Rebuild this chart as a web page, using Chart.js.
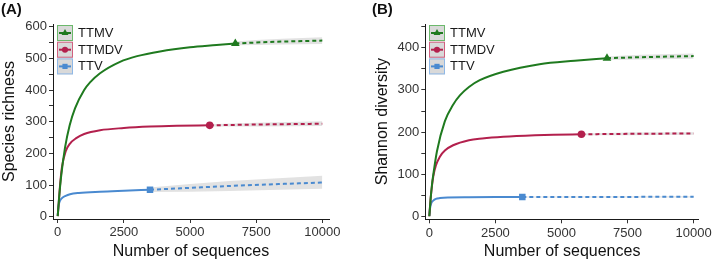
<!DOCTYPE html>
<html>
<head>
<meta charset="utf-8">
<script src="https://cdn.jsdelivr.net/npm/chart.js@4.4.0/dist/chart.umd.min.js"></script>
<style>
body { margin: 0; background: #fff; width: 714px; height: 261px; position: relative; overflow: hidden; font-family: "Liberation Sans", Arial, sans-serif; }
.panel { position: absolute; top: 0; width: 357px; height: 261px; }
.tag { position: absolute; top: 0; font-weight: bold; font-size: 15px; color: #111; }
</style>
</head>
<body>
<div class="panel" style="left:0"><canvas id="chartA" width="357" height="261"></canvas></div>
<div class="panel" style="left:357px"><canvas id="chartB" width="357" height="261"></canvas></div>
<div class="tag" style="left:1px">(A)</div>
<div class="tag" style="left:372px">(B)</div>
<script>
var seriesNames = ['TTMV', 'TTMDV', 'TTV'];
var xTicks = [0, 2500, 5000, 7500, 10000];
var richTicks = [0, 50, 100, 150, 200, 250, 300, 350, 400, 450, 500, 550, 600];
var shanTicks = [0, 50, 100, 150, 200, 250, 300, 350, 400, 450];

// (A) species richness, observed (solid) and extrapolated (dashed + band)
var richTTMV_x = [1, 50, 125, 276, 450, 654, 1000, 1221, 1600, 2355, 3000, 3866, 5000, 6000, 6713];
var richTTMV_y = [2, 57, 124, 218, 288, 342, 400, 424, 453, 489, 507, 522, 535, 542, 547];
var richTTMV_ex = [6713, 7500, 8500, 10000];
var richTTMV_ey = [547, 550, 553, 556];
var richTTMV_lo = [541, 542, 544, 545];
var richTTMV_hi = [553, 558, 562, 567];

var richTTMDV_x = [1, 50, 100, 163, 300, 465, 700, 1000, 1600, 2500, 3488, 4500, 5745];
var richTTMDV_y = [2, 57, 110, 158, 206, 231, 248, 261, 273, 280, 284.5, 287, 288.5];
var richTTMDV_ex = [5745, 7500, 10000];
var richTTMDV_ey = [288.5, 291, 293.5];
var richTTMDV_lo = [285, 285, 286];
var richTTMDV_hi = [292, 297, 301];

var richTTV_x = [1, 25, 75, 150, 300, 465, 800, 1600, 2500, 3488];
var richTTV_y = [3, 30, 48, 58, 66, 71, 75, 79, 82, 85];
var richTTV_ex = [3488, 5000, 6500, 8000, 10000];
var richTTV_ey = [85, 91, 97, 102, 108];
var richTTV_lo = [78, 79, 81, 84, 88];
var richTTV_hi = [92, 103, 113, 120, 129];

// (B) Shannon diversity
var shanTTMV_x = [1, 50, 100, 150, 290, 590, 900, 1157, 1500, 1910, 2800, 4170, 5500, 6722];
var shanTTMV_y = [1, 42, 75, 99, 155, 226, 265, 287, 307, 323, 343, 361, 369, 375];
var shanTTMV_ex = [6722, 8000, 10000];
var shanTTMV_ey = [375, 377.5, 380];
var shanTTMV_lo = [371, 372, 374];
var shanTTMV_hi = [379, 383, 386];

var shanTTMDV_x = [1, 50, 100, 150, 250, 400, 600, 900, 1500, 2000, 2800, 4000, 4700, 5754];
var shanTTMDV_y = [1, 42, 72, 95, 121, 142, 157, 169, 181, 185, 189, 192.5, 193.8, 195];
var shanTTMDV_ex = [5754, 7500, 10000];
var shanTTMDV_ey = [195, 196, 197];
var shanTTMDV_lo = [193, 193, 194];
var shanTTMDV_hi = [197, 199, 200];

var shanTTV_x = [1, 30, 75, 150, 250, 400, 700, 1500, 2500, 3519];
var shanTTV_y = [2, 20, 32, 38, 42, 44, 45.5, 46, 46.3, 46.6];
var shanTTV_ex = [3519, 10000];
var shanTTV_ey = [46.6, 47];
var shanTTV_lo = [45.5, 45.5];
var shanTTV_hi = [47.7, 48.5];

var lineColors = ['#1f7a1f', '#b3204d', '#4a8ad0'];
var boxColors = ['#6cb86c', '#d0607f', '#8fb8e6'];
var markers = ['triangle', 'circle', 'rect'];
var markerSize = [5, 3.8, 4.6];

function pts(xs, ys) {
    return xs.map(function (x, i) { return { x: x, y: ys[i] }; });
}

function buildDatasets(series) {
    var ds = [];
    series.forEach(function (s, i) {
        var c = lineColors[i];
        ds.push({ data: pts(s.ex, s.lo), borderWidth: 0, pointRadius: 0, fill: false, order: 5 });
        ds.push({ data: pts(s.ex, s.hi), borderWidth: 0, pointRadius: 0, fill: '-1',
            backgroundColor: 'rgba(190,190,190,0.45)', order: 5 });
        ds.push({ data: pts(s.x, s.y), borderColor: c, borderWidth: 2, pointRadius: 0,
            cubicInterpolationMode: 'monotone', fill: false, order: 2 });
        ds.push({ data: pts(s.ex, s.ey), borderColor: c, borderWidth: 2, borderDash: [4, 3],
            pointRadius: 0, cubicInterpolationMode: 'monotone', fill: false, order: 2 });
        var last = s.x.length - 1;
        ds.push({ data: [{ x: s.x[last], y: s.y[last] }], showLine: false,
            pointStyle: markers[i], pointRadius: markerSize[i], pointBackgroundColor: c,
            pointBorderColor: c, pointBorderWidth: 0, order: 1 });
    });
    return ds;
}

var legendPlugin = {
    id: 'boxLegend',
    afterDraw: function (chart, args, opts) {
        var ctx = chart.ctx;
        ctx.save();
        seriesNames.forEach(function (name, i) {
            var bx = opts.x, by = opts.y + i * 16.7;
            ctx.fillStyle = '#d9d9d9';
            ctx.fillRect(bx, by, 16, 16);
            ctx.strokeStyle = boxColors[i];
            ctx.lineWidth = 1;
            ctx.strokeRect(bx + 0.5, by + 0.5, 15, 15);
            ctx.strokeStyle = lineColors[i];
            ctx.lineWidth = 2;
            ctx.beginPath();
            ctx.moveTo(bx + 2, by + 8);
            ctx.lineTo(bx + 14, by + 8);
            ctx.stroke();
            ctx.fillStyle = lineColors[i];
            Chart.helpers.drawPoint(ctx, { pointStyle: markers[i], radius: markerSize[i] * 0.8, rotation: 0, borderWidth: 0 }, bx + 8, by + 8);
            ctx.fillStyle = '#1a1a1a';
            ctx.font = '13px "Liberation Sans", Arial, sans-serif';
            ctx.textBaseline = 'middle';
            ctx.fillText(name, bx + 21, by + 8.5);
        });
        ctx.restore();
    }
};

function makePanel(id, cfg) {
    var tickFont = { family: '"Liberation Sans", Arial, sans-serif', size: 13 };
    var titleFont = { family: '"Liberation Sans", Arial, sans-serif', size: 16 };
    return new Chart(document.getElementById(id), {
        type: 'line',
        data: { datasets: buildDatasets(cfg.series) },
        options: {
            responsive: false,
            animation: false,
            devicePixelRatio: 1,
            layout: { padding: cfg.padding },
            plugins: { legend: { display: false }, tooltip: { enabled: false },
                boxLegend: { x: cfg.legendX, y: 25 } },
            scales: {
                x: {
                    type: 'linear', min: cfg.xMin, max: cfg.xMax,
                    afterBuildTicks: function (s) { s.ticks = xTicks.map(function (v) { return { value: v }; }); },
                    afterFit: function (s) { s.height = cfg.xHeight; },
                    grid: { drawOnChartArea: false, drawTicks: true, tickLength: 4, color: '#333' },
                    border: { display: true, color: '#1a1a1a', width: 1 },
                    ticks: { autoSkip: false, maxRotation: 0, padding: 2, color: '#333', font: tickFont,
                        callback: function (v) { return String(v); } },
                    title: { display: true, text: 'Number of sequences', color: '#111', font: titleFont, padding: 0 }
                },
                y: {
                    type: 'linear', min: cfg.yMin, max: cfg.yMax,
                    afterBuildTicks: function (s) { s.ticks = cfg.yTicks.map(function (v) { return { value: v }; }); },
                    afterFit: function (s) { s.width = cfg.yWidth; },
                    grid: { drawOnChartArea: false, drawTicks: true, tickLength: 4, color: '#333' },
                    border: { display: true, color: '#1a1a1a', width: 1 },
                    ticks: { autoSkip: false, padding: 2, color: '#333', font: tickFont,
                        callback: function (v) { return v % 100 === 0 ? String(v) : ''; } },
                    title: { display: true, text: cfg.yTitle, color: '#111', font: titleFont, padding: 0 }
                }
            }
        },
        plugins: [legendPlugin]
    });
}

makePanel('chartA', {
    series: [
        { x: richTTMV_x, y: richTTMV_y, ex: richTTMV_ex, ey: richTTMV_ey, lo: richTTMV_lo, hi: richTTMV_hi },
        { x: richTTMDV_x, y: richTTMDV_y, ex: richTTMDV_ex, ey: richTTMDV_ey, lo: richTTMDV_lo, hi: richTTMDV_hi },
        { x: richTTV_x, y: richTTV_y, ex: richTTV_ex, ey: richTTV_ey, lo: richTTV_lo, hi: richTTV_hi }
    ],
    xMin: -178, xMax: 10253, yMin: -7.3, yMax: 608.5, yTicks: richTicks,
    padding: { left: 0, right: 28, top: 24, bottom: 0 },
    yWidth: 53, xHeight: 42, legendX: 57, yTitle: 'Species richness'
});

makePanel('chartB', {
    series: [
        { x: shanTTMV_x, y: shanTTMV_y, ex: shanTTMV_ex, ey: shanTTMV_ey, lo: shanTTMV_lo, hi: shanTTMV_hi },
        { x: shanTTMDV_x, y: shanTTMDV_y, ex: shanTTMDV_ex, ey: shanTTMDV_ey, lo: shanTTMDV_lo, hi: shanTTMDV_hi },
        { x: shanTTV_x, y: shanTTV_y, ex: shanTTV_ex, ey: shanTTV_ey, lo: shanTTV_lo, hi: shanTTV_hi }
    ],
    xMin: -151, xMax: 10200, yMin: -6.2, yMax: 456, yTicks: shanTicks,
    padding: { left: 16, right: 14, top: 24, bottom: 0 },
    yWidth: 52.3, xHeight: 41.7, legendX: 72, yTitle: 'Shannon diversity'
});
</script>
</body>
</html>
